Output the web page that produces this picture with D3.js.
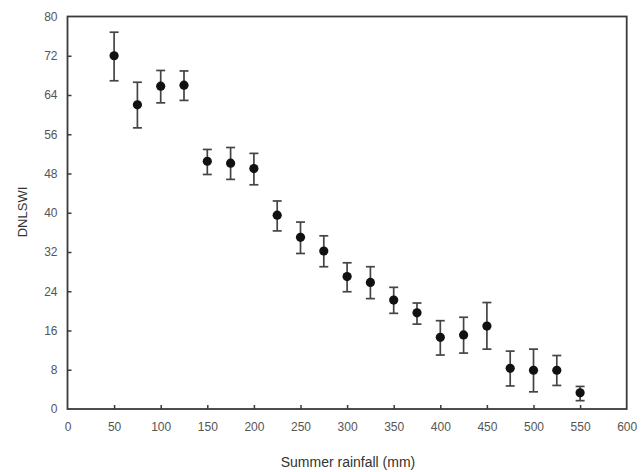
<!DOCTYPE html>
<html><head><meta charset="utf-8">
<script src="https://cdn.jsdelivr.net/npm/d3@7"></script>
<style>body{margin:0;background:#fff}svg{display:block}</style>
</head><body>
<script>
const rainfall = [50,75,100,125,150,175,200,225,250,275,300,325,350,375,400,425,450,475,500,525,550];
const dnlswi   = [72,62,65.8,66,50.5,50.1,49,39.5,35,32.2,27,25.8,22.2,19.6,14.6,15.1,16.9,8.3,7.9,7.9,3.3];
const errTop   = [76.8,66.6,69,68.9,52.9,53.3,52.1,42.4,38.1,35.3,29.8,29,24.8,21.6,18,18.7,21.7,11.8,12.2,10.9,4.6];
const errBot   = [66.9,57.3,62.4,62.9,47.8,46.8,45.7,36.3,31.7,29,23.9,22.5,19.5,17.3,11,11.4,12.2,4.7,3.5,4.8,1.7];
const xTicks = [0,50,100,150,200,250,300,350,400,450,500,550,600];
const yTicks = [0,8,16,24,32,40,48,56,64,72,80];

const W=641,H=472;
const m={l:67.5,r:641-626.7,t:16.5,b:472-409};
const svg=d3.select("body").append("svg").attr("width",W).attr("height",H);
const x=d3.scaleLinear().domain([0,600]).range([m.l,W-m.r]);
const y=d3.scaleLinear().domain([0,80]).range([H-m.b,m.t]);
const txt="#555", ax="#3a3a3a", font="Liberation Sans, Arial, sans-serif";

// frame
svg.append("rect").attr("x",x(0)).attr("y",y(80)).attr("width",x(600)-x(0)).attr("height",y(0)-y(80))
  .attr("fill","none").attr("stroke",ax).attr("stroke-width",1.8);

const gx=svg.append("g").attr("transform",`translate(0,${y(0)})`)
  .call(d3.axisBottom(x).tickValues(xTicks).tickSize(-4).tickPadding(13).tickFormat(d3.format("d")));
const gy=svg.append("g").attr("transform",`translate(${x(0)},0)`)
  .call(d3.axisLeft(y).tickValues(yTicks).tickSize(-4).tickPadding(10).tickFormat(d3.format("d")));
[gx,gy].forEach(g=>{
  g.select(".domain").remove();
  g.selectAll(".tick line").attr("stroke",ax).attr("stroke-width",1.5);
  g.selectAll(".tick text").attr("fill",txt).attr("font-family",font).attr("font-size",12);
});
gx.selectAll(".tick").filter(d=>d===0||d===600).select("line").remove();
gy.selectAll(".tick").filter(d=>d===0||d===80).select("line").remove();

// error bars
const g=svg.append("g");
const cap=4.5;
rainfall.forEach((r,i)=>{
  const cx=x(r);
  g.append("line").attr("x1",cx).attr("x2",cx).attr("y1",y(errTop[i])).attr("y2",y(errBot[i]))
    .attr("stroke","#444").attr("stroke-width",1.7);
  [errTop[i],errBot[i]].forEach(v=>g.append("line").attr("x1",cx-cap).attr("x2",cx+cap)
    .attr("y1",y(v)).attr("y2",y(v)).attr("stroke","#444").attr("stroke-width",1.7));
});
g.selectAll("circle").data(rainfall).join("circle")
  .attr("cx",d=>x(d)).attr("cy",(d,i)=>y(dnlswi[i])).attr("r",4.6).attr("fill","#111");

svg.append("text").attr("x",348).attr("y",467).attr("text-anchor","middle")
  .attr("fill","#333").attr("font-family",font).attr("font-size",14).text("Summer rainfall (mm)");
svg.append("text").attr("transform",`translate(27,${212}) rotate(-90)`).attr("text-anchor","middle")
  .attr("fill","#333").attr("font-family",font).attr("font-size",13).text("DNLSWI");
</script>
</body></html>
